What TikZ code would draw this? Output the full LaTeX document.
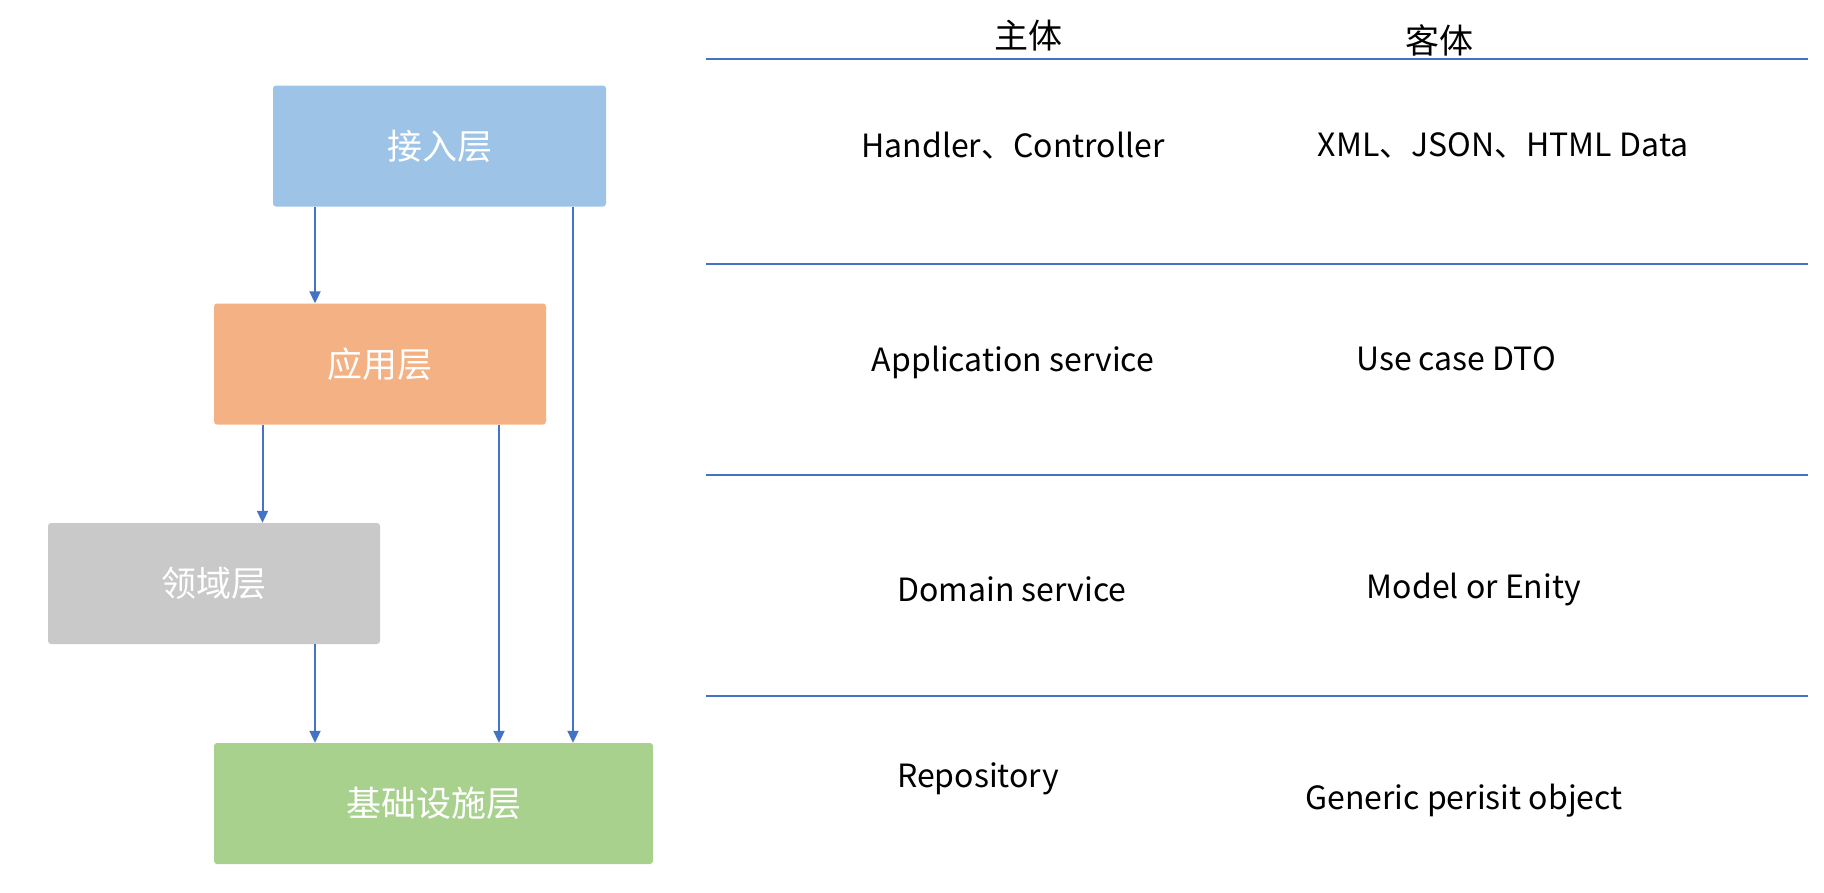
\documentclass[tikz,border=0pt]{standalone}
\usepackage{fontspec}
\setmainfont{Noto Sans CJK SC}
\usetikzlibrary{arrows.meta}
\definecolor{cblue}{HTML}{9DC3E6}
\definecolor{corange}{HTML}{F4B183}
\definecolor{cgray}{HTML}{C9C9C9}
\definecolor{cgreen}{HTML}{A9D18E}
\definecolor{cline}{HTML}{4472C4}
\tikzset{
  layer/.style={fill=#1, draw=none, rounded corners=3pt, minimum height=121pt, inner sep=0pt,
    text=white, font=\fontsize{35}{40}\selectfont},
  arr/.style={draw=cline, line width=2pt, -{Triangle[width=11pt,length=12pt]}},
  sep/.style={draw=cline, line width=1.5pt},
  lbl/.style={font=\fontsize{32}{38}\selectfont, text=black, inner sep=0pt},
  hdr/.style={font=\fontsize{34}{40}\selectfont, text=black, inner sep=0pt}
}
\begin{document}
\begin{tikzpicture}[x=1pt,y=-1pt]
\useasboundingbox (0,0) rectangle (1824,892);
% layer boxes
\node[layer=cblue, minimum width=333pt] (acc) at (439.5,146) {接入层};
\node[layer=corange, minimum width=332pt] (app) at (380,364) {应用层};
\node[layer=cgray, minimum width=332pt] (dom) at (214,583.5) {领域层};
\node[layer=cgreen, minimum width=439pt] (inf) at (433.5,803.5) {基础设施层};
% column coordinates
\coordinate (c1) at (315,0);
\coordinate (c2) at (573,0);
\coordinate (c3) at (262.5,0);
\coordinate (c4) at (499,0);
% connectors
\draw[arr] (c1 |- acc.south) -- (c1 |- app.north);
\draw[arr] (c2 |- acc.south) -- (c2 |- inf.north);
\draw[arr] (c3 |- app.south) -- (c3 |- dom.north);
\draw[arr] (c4 |- app.south) -- (c4 |- inf.north);
\draw[arr] (c1 |- dom.south) -- (c1 |- inf.north);
% separators
\coordinate (s1a) at (706,59);  \coordinate (s1b) at (1808,59);
\coordinate (s2a) at (706,264); \coordinate (s2b) at (1808,264);
\coordinate (s3a) at (706,475); \coordinate (s3b) at (1808,475);
\coordinate (s4a) at (706,696); \coordinate (s4b) at (1808,696);
\draw[sep] (s1a) -- (s1b);
\draw[sep] (s2a) -- (s2b);
\draw[sep] (s3a) -- (s3b);
\draw[sep] (s4a) -- (s4b);
% headers
\node[hdr] (h1) at (1028,36) {主体};
\node[hdr] (h2) at (1439,40) {客体};
% labels
\node[lbl] (t1) at (1013,146) {Handler、Controller};
\node[lbl] (o1) at (1503,145) {XML、JSON、HTML Data};
\node[lbl] (t2) at (1013,362) {Application service};
\node[lbl] (o2) at (1456,359) {Use case DTO};
\node[lbl] (t3) at (1012,589) {Domain service};
\node[lbl] (o3) at (1474,589) {Model or Enity};
\node[lbl] (t4) at (978,779) {Repository};
\node[lbl] (o4) at (1464,801) {Generic perisit object};
\end{tikzpicture}
\end{document}
